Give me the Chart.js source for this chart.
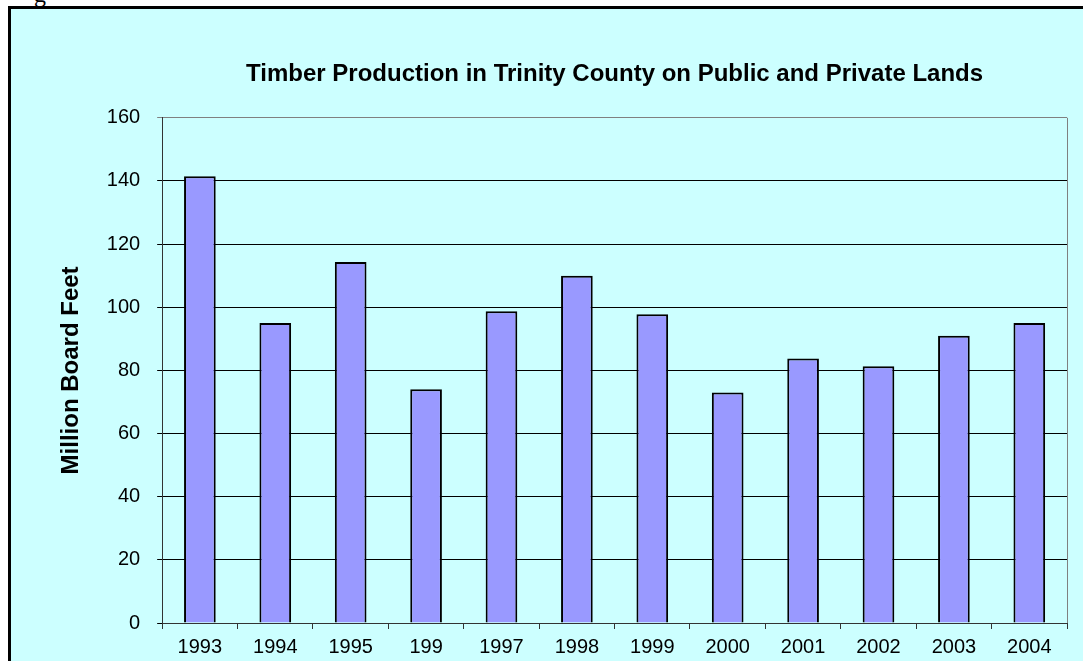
<!DOCTYPE html>
<html lang="en">
<head>
    <meta charset="UTF-8">
    <title>Timber Production in Trinity County</title>
    <script src="https://cdn.jsdelivr.net/npm/chart.js"></script>
    <style>
        html, body { margin: 0; padding: 0; background: #fff; overflow: hidden; }
        #frame {
            position: absolute; left: 8px; top: 6px;
            width: 1200px; height: 800px;
            border: 3px solid #000; background: #ccffff;
        }
        #caption {
            position: absolute; left: 34px; top: -19px;
            font-family: "Liberation Serif", "Times New Roman", serif; font-size: 24px;
        }
        #wrap { position: absolute; left: 0; top: 0; width: 1083px; height: 665px; }
    </style>
</head>
<body>
    <div id="caption">g</div>
    <div id="frame"></div>
    <div id="wrap"><canvas id="timberChart" width="1083" height="665"></canvas></div>
    <script>
        // values
        const years = ['1993', '1994', '1995', '199', '1997', '1998', '1999', '2000', '2001', '2002', '2003', '2004'];
        const boardFeet = [141.5, 95, 114.3, 74, 98.7, 110, 97.8, 73, 83.8, 81.3, 91, 95];
        const yTicks = [0, 20, 40, 60, 80, 100, 120, 140, 160];

        const font = { family: 'Arial, "Liberation Sans", sans-serif', size: 20 };
        const boldFont = { family: 'Arial, "Liberation Sans", sans-serif', size: 24, weight: 'bold' };

        // grey outline on the right side of the plot area
        const plotEdge = {
            id: 'plotEdge',
            beforeDatasetsDraw(chart) {
                const a = chart.chartArea, c = chart.ctx;
                c.save();
                c.strokeStyle = '#808080';
                c.lineWidth = 1;
                c.beginPath();
                c.moveTo(Math.round(a.right) + 0.5, a.top);
                c.lineTo(Math.round(a.right) + 0.5, a.bottom);
                c.stroke();
                c.restore();
            }
        };

        new Chart(document.getElementById('timberChart'), {
            type: 'bar',
            data: {
                labels: years,
                datasets: [{
                    label: 'Million Board Feet',
                    data: boardFeet,
                    backgroundColor: '#9999ff',
                    borderColor: '#000',
                    borderWidth: 2,
                    categoryPercentage: 1,
                    barPercentage: 0.42
                }]
            },
            options: {
                responsive: false,
                animation: false,
                layout: { padding: { left: 57, right: 16, bottom: 0, top: 0 } },
                plugins: {
                    legend: { display: false },
                    tooltip: { enabled: false },
                    title: {
                        display: true,
                        text: 'Timber Production in Trinity County on Public and Private Lands',
                        font: boldFont,
                        color: '#000',
                        fullSize: false,
                        padding: { top: 60, bottom: 29 }
                    }
                },
                scales: {
                    x: {
                        grid: { drawOnChartArea: false, drawTicks: true, tickLength: 6, color: '#333' },
                        border: { color: '#333', width: 1 },
                        ticks: { font: font, color: '#000', padding: 6, maxRotation: 0 }
                    },
                    y: {
                        min: 0,
                        max: 160,
                        afterBuildTicks(axis) { axis.ticks = yTicks.map(v => ({ value: v })); },
                        grid: {
                            color: ctx => ctx.tick && ctx.tick.value === 160 ? '#808080' : '#000',
                            tickLength: 5,
                            lineWidth: 1
                        },
                        border: { color: '#333', width: 1 },
                        ticks: { font: font, color: '#000', padding: 17 },
                        title: {
                            display: true,
                            text: 'Million Board Feet',
                            font: boldFont,
                            color: '#000',
                            padding: { top: 0, bottom: 4 }
                        }
                    }
                }
            },
            plugins: [plotEdge]
        });
    </script>
</body>
</html>
